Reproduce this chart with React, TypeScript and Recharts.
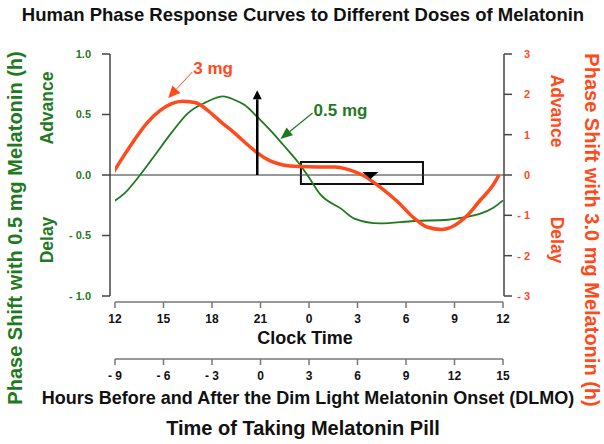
import React from "react";
import {
  ComposedChart,
  Line,
  XAxis,
  YAxis,
  ReferenceLine,
  ReferenceArea,
  ReferenceDot,
} from "recharts";

const GREEN = "#1f7a1f";
const RED = "#ff4a1c";
const AXIS = "#444";
const FONT = '"Liberation Sans", Arial, sans-serif';

// hours after 12:00 noon
const hourTicks = [0, 3, 6, 9, 12, 15, 18, 21, 24];
const clockLabels = ["12", "15", "18", "21", "0", "3", "6", "9", "12"];
const dlmoLabels = ["- 9", "- 6", "- 3", "0", "3", "6", "9", "12", "15"];

const leftTicks = [-1, -0.5, 0, 0.5, 1];
const leftLabels = ["- 1.0", "- 0.5", "0.0", "0.5", "1.0"];
const rightTicks = [-3, -2, -1, 0, 1, 2, 3];
const rightLabels = ["- 3", "- 2", "- 1", "0", "1", "2", "3"];

// 3 mg curve (right axis)
const redHours = [
  -0.2, 0.5, 1.2, 2.0, 2.8, 3.5, 4.2, 5.0, 5.8, 6.6, 7.4, 8.2, 8.8, 9.6, 10.4,
  11.4, 12.5, 13.6, 14.4, 15.3, 16.4, 17.5, 18.5, 19.3, 20.2, 21.0, 21.8, 22.6,
  23.3, 23.75,
];
const redShift = [
  0, 0.45, 0.87, 1.3, 1.6, 1.77, 1.83, 1.79, 1.58, 1.3, 1.04, 0.75, 0.55, 0.35,
  0.25, 0.21, 0.2, 0.2, 0.14, 0, -0.3, -0.67, -1.07, -1.29, -1.35, -1.25, -1.0,
  -0.62, -0.3, 0,
];

// 0.5 mg curve (left axis)
const greenHours = [
  -0.2, 0.6, 1.55, 2.5, 3.5, 4.5, 5.6, 6.7, 7.4, 8.0, 8.8, 9.6, 10.4, 11.3, 11.9,
  12.7, 14.0, 14.8, 16.4, 18.5, 20.6, 21.6, 22.6, 23.4, 24.0,
];
const greenShift = [
  -0.23, -0.15, 0, 0.17, 0.35, 0.51, 0.6, 0.65, 0.62, 0.58, 0.48, 0.37, 0.25,
  0.11, 0, -0.16, -0.28, -0.36, -0.4, -0.38, -0.37, -0.35, -0.32, -0.27, -0.21,
];

const redData = redHours.map((h, i) => ({ h, v: redShift[i] }));
const greenData = greenHours.map((h, i) => ({ h, v: greenShift[i] }));

const labelFor = (ticks: number[], labels: string[]) => (v: number) =>
  labels[ticks.indexOf(v)] ?? "";

function arrow(color: string, width: number, headLen: number, headW: number, text?: string, tdx = 0, tdy = 0) {
  return (p: any) => {
    const { x1, y1, x2, y2 } = p;
    const dx = x2 - x1;
    const dy = y2 - y1;
    const len = Math.sqrt(dx * dx + dy * dy) || 1;
    const ux = dx / len;
    const uy = dy / len;
    const bx = x2 - ux * headLen;
    const by = y2 - uy * headLen;
    const px = -uy * (headW / 2);
    const py = ux * (headW / 2);
    return (
      <g>
        <line x1={x1} y1={y1} x2={bx} y2={by} stroke={color} strokeWidth={width} />
        <polygon
          points={`${x2},${y2} ${bx + px},${by + py} ${bx - px},${by - py}`}
          fill={color}
        />
        {text && (
          <text x={x1 + tdx} y={y1 + tdy} fill={color} fontFamily={FONT} fontWeight="bold" fontSize={17}>
            {text}
          </text>
        )}
      </g>
    );
  };
}

const RightTick = (p: any) => (
  <text
    x={p.x + 16}
    y={p.y}
    dy="0.355em"
    textAnchor="end"
    fill={RED}
    fontFamily={FONT}
    fontWeight="bold"
    fontSize={11}
  >
    {labelFor(rightTicks, rightLabels)(p.payload.value)}
  </text>
);

const tickStyle = { fill: "#111", fontFamily: FONT, fontWeight: "bold", fontSize: 12 };
const bottomTick = { stroke: "#777", strokeWidth: 1.5 };
// axis line only between the first and last tick
const bottomLine = { ...bottomTick, strokeDasharray: "0 5 388 100" };
const droppedTick = { ...bottomTick, transform: "translate(0,6)" };
const droppedLine = { ...bottomLine, transform: "translate(0,6)" };

export default function App() {
  return (
    <div style={{ position: "absolute", left: 0, top: 0, width: 604, height: 444 }}>
      <ComposedChart
        width={604}
        height={444}
        margin={{ top: 54, right: 40, bottom: 55, left: 50 }}
      >
        <XAxis
          xAxisId="clock"
          type="number"
          dataKey="h"
          domain={[0, 24]}
          allowDataOverflow
          padding={{ left: 5, right: 1 }}
          ticks={hourTicks}
          tickFormatter={labelFor(hourTicks, clockLabels)}
          height={63}
          tickSize={6}
          tickMargin={12}
          axisLine={droppedLine}
          tickLine={droppedTick}
          tick={tickStyle}
        />
        <XAxis
          xAxisId="dlmo"
          type="number"
          dataKey="h"
          domain={[0, 24]}
          allowDataOverflow
          padding={{ left: 5, right: 1 }}
          ticks={hourTicks}
          tickFormatter={labelFor(hourTicks, dlmoLabels)}
          height={30}
          tickSize={6}
          tickMargin={6}
          axisLine={bottomLine}
          tickLine={bottomTick}
          tick={tickStyle}
        />
        <YAxis
          yAxisId="left"
          type="number"
          domain={[-1, 1]}
          ticks={leftTicks}
          tickFormatter={labelFor(leftTicks, leftLabels)}
          width={60}
          tickSize={8}
          tickMargin={11}
          stroke={AXIS}
          strokeWidth={1.5}
          tick={{ fill: GREEN, fontFamily: FONT, fontWeight: "bold", fontSize: 11 }}
        />
        <YAxis
          yAxisId="right"
          orientation="right"
          type="number"
          domain={[-3, 3]}
          ticks={rightTicks}
          width={60}
          tickSize={8}
          tickMargin={2}
          stroke={AXIS}
          strokeWidth={1.5}
          tick={<RightTick />}
        />

        <ReferenceLine xAxisId="clock" yAxisId="left" y={0} stroke="#333" strokeWidth={1} />

        <Line
          xAxisId="clock"
          yAxisId="left"
          data={greenData}
          dataKey="v"
          type="monotone"
          stroke={GREEN}
          strokeWidth={1.8}
          dot={false}
          isAnimationActive={false}
        />
        <Line
          xAxisId="dlmo"
          yAxisId="right"
          data={redData}
          dataKey="v"
          type="monotone"
          stroke={RED}
          strokeWidth={3.5}
          dot={false}
          isAnimationActive={false}
        />

        <ReferenceArea
          xAxisId="clock"
          yAxisId="left"
          x1={11.5}
          x2={19.05}
          y1={-0.074}
          y2={0.107}
          fill="none"
          stroke="#111"
          strokeWidth={2}
        />
        <ReferenceDot
          xAxisId="clock"
          yAxisId="left"
          x={15.8}
          y={0}
          shape={(p: any) => (
            <polygon
              points={`${p.cx - 8},${p.cy - 3} ${p.cx + 8},${p.cy - 3} ${p.cx},${p.cy + 4}`}
              fill="#000"
            />
          )}
        />
        <ReferenceLine
          xAxisId="clock"
          yAxisId="left"
          segment={[{ x: 8.8, y: 0 }, { x: 8.8, y: 0.7 }]}
          shape={arrow("#000", 2.5, 9, 9)}
        />
        <ReferenceLine
          xAxisId="clock"
          yAxisId="left"
          segment={[{ x: 4.78, y: 0.851 }, { x: 3.29, y: 0.636 }]}
          shape={arrow(RED, 1, 12, 11, "3 mg", 1, 2)}
        />
        <ReferenceLine
          xAxisId="clock"
          yAxisId="left"
          segment={[{ x: 12.22, y: 0.512 }, { x: 10.23, y: 0.298 }]}
          shape={arrow(GREEN, 1.2, 12, 10, "0.5 mg", 1, 3)}
        />
      </ComposedChart>

      <svg
        width={604}
        height={444}
        style={{ position: "absolute", left: 0, top: 0, pointerEvents: "none" }}
        fontFamily={FONT}
        fontWeight="bold"
      >
        <text x={303} y={21} textAnchor="middle" fontSize={18.5} fill="#111">
          Human Phase Response Curves to Different Doses of Melatonin
        </text>
        <text x={305} y={344} textAnchor="middle" fontSize={18} fill="#111">
          Clock Time
        </text>
        <text x={308} y={404} textAnchor="middle" fontSize={18} fill="#111">
          Hours Before and After the Dim Light Melatonin Onset (DLMO)
        </text>
        <text x={303} y={435} textAnchor="middle" fontSize={20} fill="#111">
          Time of Taking Melatonin Pill
        </text>

        <text transform="translate(22,228) rotate(-90)" textAnchor="middle" fontSize={20} fill={GREEN}>
          Phase Shift with 0.5 mg Melatonin (h)
        </text>
        <text transform="translate(53,108) rotate(-90)" textAnchor="middle" fontSize={17.5} fill={GREEN}>
          Advance
        </text>
        <text transform="translate(53,240) rotate(-90)" textAnchor="middle" fontSize={17.5} fill={GREEN}>
          Delay
        </text>

        <text transform="translate(585,230) rotate(90)" textAnchor="middle" fontSize={20} fill={RED}>
          Phase Shift with 3.0 mg Melatonin (h)
        </text>
        <text transform="translate(551,111) rotate(90)" textAnchor="middle" fontSize={17.5} fill={RED}>
          Advance
        </text>
        <text transform="translate(551,240) rotate(90)" textAnchor="middle" fontSize={17.5} fill={RED}>
          Delay
        </text>
      </svg>
    </div>
  );
}
